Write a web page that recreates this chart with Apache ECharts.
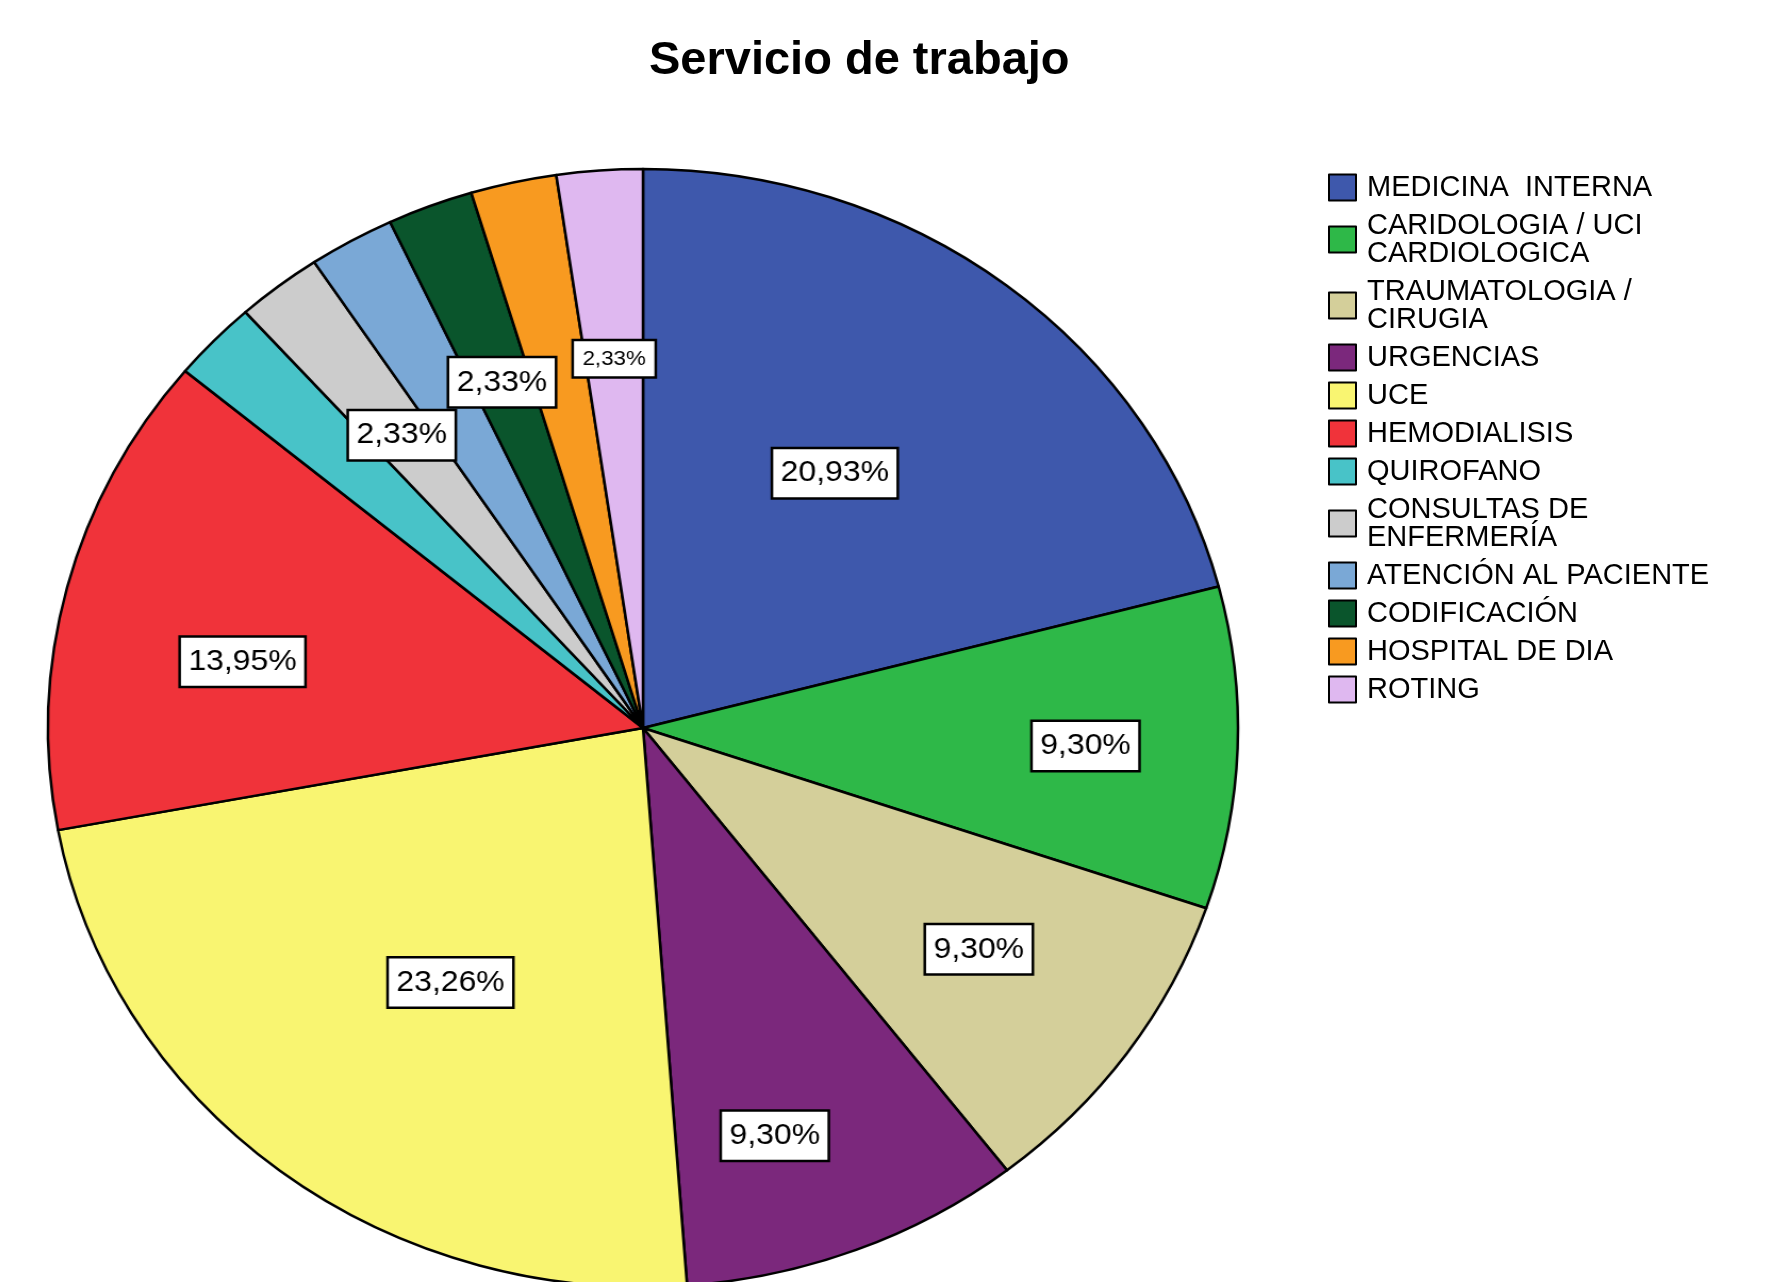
<!DOCTYPE html>
<html><head><meta charset="utf-8">
<script src="https://cdn.jsdelivr.net/npm/echarts@6/dist/echarts.min.js"></script>
<style>
html,body{margin:0;padding:0;background:#fff;overflow:hidden;width:1791px;height:1282px}
#pie{position:absolute;left:0;top:0;width:1791px;height:1282px;transform:scaleX(1.0644);transform-origin:643px 0}
#over{position:absolute;left:0;top:0;width:1791px;height:1282px}
</style></head><body>
<div id="pie"></div><div id="over"></div>
<script>
// ---- data ----
const titleText = 'Servicio de trabajo';
const categories = ['MEDICINA  INTERNA', 'CARIDOLOGIA / UCI\nCARDIOLOGICA', 'TRAUMATOLOGIA /\nCIRUGIA', 'URGENCIAS', 'UCE', 'HEMODIALISIS', 'QUIROFANO', 'CONSULTAS DE\nENFERMERÍA', 'ATENCIÓN AL PACIENTE', 'CODIFICACIÓN', 'HOSPITAL DE DIA', 'ROTING'];
const percents = [20.93, 9.30, 9.30, 9.30, 23.26, 13.95, 2.33, 2.33, 2.33, 2.33, 2.33, 2.33];

// ---- styles ----
const colors = ['#3e58ac', '#2eb848', '#d4cf9a', '#7b287c', '#f9f571', '#f0333a', '#48c3c8', '#cccccc', '#7aa8d6', '#0a552c', '#f89a20', '#dfb8f0'];
// label placement: fraction of radius (null = no label) and angular shift (deg, clockwise) from slice middle
const labelRadiusFrac = [0.553, 0.739, 0.684, 0.757, 0.553, 0.678, null, 0.657, null, 0.657, null, 0.657];
const labelAngleShift = [-2.4, 0.4, -0.5, 4.1, -2.2, -4.6, 0, 0, 0, 0, 0, 0];
const labelSmall = [false, false, false, false, false, false, false, false, false, false, false, true];
const FONT = '"Liberation Sans", Arial, sans-serif';
const CX = 643, CY = 728, R = 559;

const fmt = v => v.toFixed(2).replace('.', ',') + '%';

const pieChart = echarts.init(document.getElementById('pie'), null, { renderer: 'canvas' });
const series = [{
  type: 'pie', silent: true, animation: false, startAngle: 90, clockwise: true,
  center: [CX, CY], radius: [0, R], avoidLabelOverlap: false,
  itemStyle: { borderColor: '#000', borderWidth: 2.5 },
  label: { show: false }, labelLine: { show: false }, emphasis: { disabled: true },
  data: categories.map((n, i) => ({ name: n, value: percents[i], itemStyle: { color: colors[i] } }))
}];
categories.forEach((cat, k) => {
  if (labelRadiusFrac[k] == null) return;
  const small = labelSmall[k];
  series.push({
    type: 'pie', silent: true, animation: false, startAngle: 90 - labelAngleShift[k], clockwise: true,
    center: [CX, CY], radius: [0, 2 * labelRadiusFrac[k] * R], avoidLabelOverlap: false,
    itemStyle: { color: 'rgba(0,0,0,0)', borderWidth: 0 },
    labelLine: { show: false }, emphasis: { disabled: true },
    label: {
      show: true, position: 'inside', color: '#000', fontFamily: FONT,
      fontSize: small ? 21 : 30,
      backgroundColor: '#fff', borderColor: '#000', borderWidth: 2.5,
      padding: small ? [7, 8] : [9, 7],
      formatter: p => fmt(p.value)
    },
    data: categories.map((n, i) => ({ name: n, value: percents[i], label: { show: i === k } }))
  });
});
pieChart.setOption({ animation: false, backgroundColor: 'transparent', series: series });

const over = echarts.init(document.getElementById('over'), null, { renderer: 'canvas' });
over.setOption({
  animation: false,
  backgroundColor: 'transparent',
  title: {
    text: titleText, left: 644, top: 33,
    textStyle: { fontFamily: FONT, fontSize: 47, fontWeight: 'bold', color: '#000' }
  },
  legend: {
    orient: 'vertical', left: 1323, top: 168, itemGap: 9, itemWidth: 27, itemHeight: 26,
    icon: 'rect', selectedMode: false,
    itemStyle: { borderColor: '#000', borderWidth: 2 },
    textStyle: { fontFamily: FONT, fontSize: 29, lineHeight: 28, color: '#000', padding: [0, 0, 0, 6] },
    data: categories
  },
  series: [{
    type: 'pie', silent: true, center: [-2000, -2000], radius: 10,
    label: { show: false }, labelLine: { show: false },
    itemStyle: { borderColor: '#000', borderWidth: 2 },
    data: categories.map((n, i) => ({ name: n, value: percents[i], itemStyle: { color: colors[i] } }))
  }]
});
</script>
</body></html>
